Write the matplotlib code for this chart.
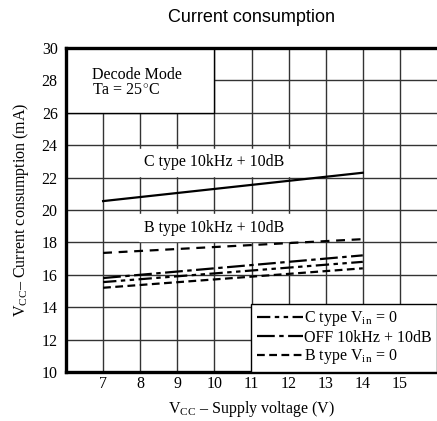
import matplotlib
matplotlib.use('Agg')
from matplotlib import pyplot as plt
from matplotlib.patches import Rectangle

plt.rcParams['font.family'] = 'Liberation Serif'
plt.rcParams['mathtext.fontset'] = 'custom'
plt.rcParams['mathtext.rm'] = 'Liberation Serif'

# supply voltage (V) at the two ends of each line
vcc = [7, 14]
c_type_10k = [20.55, 22.3]
b_type_10k = [17.35, 18.2]
off_10k = [15.8, 17.2]
c_type_vin0 = [15.55, 16.8]
b_type_vin0 = [15.2, 16.4]

x_ticks = [7, 8, 9, 10, 11, 12, 13, 14, 15]
y_ticks = [10, 12, 14, 16, 18, 20, 22, 24, 26, 28, 30]

fig = plt.figure(figsize=(4.37, 4.21), dpi=100)
ax = fig.add_axes([66 / 437, 1 - 372 / 421, 371 / 437, 324 / 421])

ax.set_xlim(6, 16)
ax.set_ylim(10, 30)
ax.set_xticks(x_ticks)
ax.set_yticks(y_ticks)
ax.tick_params(length=0, labelsize=11.5)
ax.tick_params(axis='x', pad=3)
ax.tick_params(axis='y', pad=6)
ax.grid(True, color='#333333', linewidth=1.0, zorder=0)
ax.set_axisbelow(True)

for s in ['left', 'bottom', 'top']:
    ax.spines[s].set_linewidth(2.4)
ax.spines['right'].set_visible(False)

# white box in the top left corner
ax.add_patch(Rectangle((6, 26), 4, 4, facecolor='white', edgecolor='black',
                       linewidth=1.0, zorder=1))
ax.text(6.7, 27.85, 'Decode Mode\nTa = 25$^{\\circ}$C', fontsize=11.5,
        va='center', ha='left', linespacing=0.95, zorder=2)

ax.plot(vcc, c_type_10k, color='black', linewidth=1.6, zorder=3)
ax.plot(vcc, b_type_10k, color='black', linewidth=1.6, linestyle=(0, (4, 3)), zorder=3)
l_c, = ax.plot(vcc, c_type_vin0, color='black', linewidth=1.6,
               linestyle=(0, (6, 2, 2, 2, 2, 2)), zorder=3)
l_off, = ax.plot(vcc, off_10k, color='black', linewidth=1.6,
                 linestyle=(0, (8, 2, 2, 2)), zorder=3)
l_b, = ax.plot(vcc, b_type_vin0, color='black', linewidth=1.6,
               linestyle=(0, (3.5, 2)), zorder=3)

ax.text(10, 22.95, 'C type 10kHz + 10dB', fontsize=11.5, ha='center', va='center',
        backgroundcolor='white', zorder=2)
ax.text(10, 18.9, 'B type 10kHz + 10dB', fontsize=11.5, ha='center', va='center',
        backgroundcolor='white', zorder=2)

leg = ax.legend([l_c, l_off, l_b],
                ['C type V$_{\\rm in}$ = 0', 'OFF 10kHz + 10dB', 'B type V$_{\\rm in}$ = 0'],
                loc='lower right', fontsize=11.5, frameon=True, fancybox=False,
                edgecolor='black', framealpha=1, borderaxespad=0, handlelength=2.9,
                handletextpad=0.05, labelspacing=0.1, borderpad=0.35)
leg.get_frame().set_linewidth(1.0)
leg.set_zorder(5)

ax.set_xlabel('V$_{\\rm CC}$ – Supply voltage (V)', fontsize=11.5, labelpad=5)
ax.set_ylabel('V$_{\\rm CC}$– Current consumption (mA)', fontsize=11.5, labelpad=8)
fig.text(251 / 437, 1 - 18 / 421, 'Current consumption', fontsize=13,
         family='Liberation Sans', ha='center', va='center')

fig.savefig('out.png', dpi=100)
plt.close()
